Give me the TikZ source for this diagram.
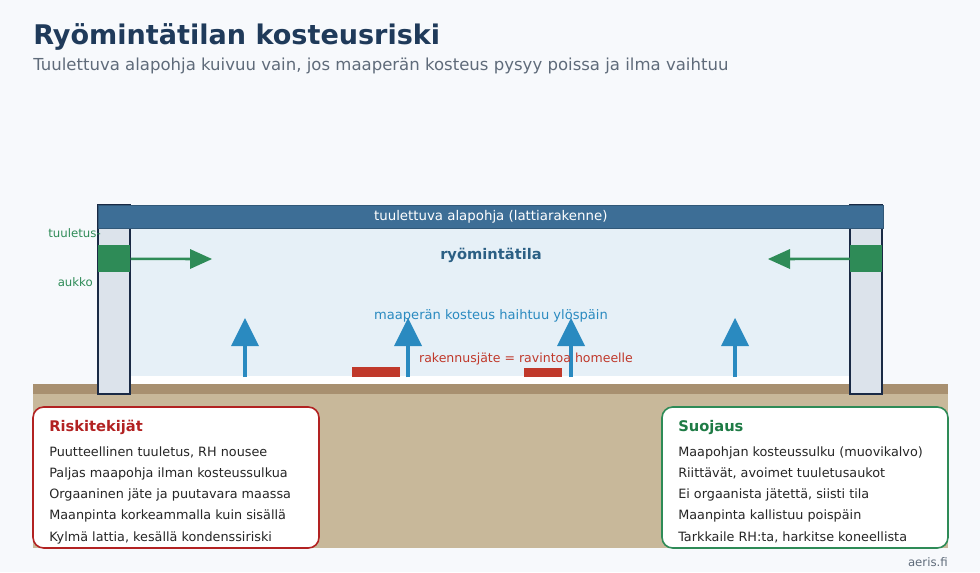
\documentclass[tikz,border=0pt]{standalone}
\usepackage{fontspec}
\setmainfont{DejaVu Sans}
\begin{document}
\begin{tikzpicture}[x=0.75pt,y=-0.75pt,
  txt/.style={inner sep=0pt,font=\fontsize{9.6}{11}\selectfont,text=black!85},
]
\definecolor{bg}{HTML}{F7F9FC}
\definecolor{titc}{HTML}{1F3A5A}
\definecolor{subc}{HTML}{5F6B7A}
\definecolor{grtop}{HTML}{A89070}
\definecolor{grnd}{HTML}{C8B89A}
\definecolor{crawl}{HTML}{E6F0F7}
\definecolor{slab}{HTML}{3D6E96}
\definecolor{wall}{HTML}{DCE3EB}
\definecolor{wallb}{HTML}{1A2A45}
\definecolor{vgreen}{HTML}{2E8B57}
\definecolor{mblue}{HTML}{2A8AC0}
\definecolor{rtxt}{HTML}{2B5F84}
\definecolor{wred}{HTML}{C0392B}
\definecolor{bred}{HTML}{B22222}
\definecolor{gtitle}{HTML}{1E7B45}
\tikzset{
  hup/.style={fill=mblue},
  shaft/.style={draw=mblue,line width=2.6pt},
  gshaft/.style={draw=vgreen,line width=1.9pt},
  wallst/.style={fill=wall,draw=wallb,line width=1pt},
  box/.style={fill=white,line width=1.2pt,rounded corners=8pt},
  lbl/.style={inner sep=0pt,font=\fontsize{8.8}{10}\selectfont,text=vgreen},
}
\fill[bg] (0,0) rectangle (980,572);
\useasboundingbox (0,0) rectangle (980,572);
\node[anchor=base west,inner sep=0pt,font=\bfseries\fontsize{20.3}{24}\selectfont,text=titc] (title) at (33,44) {Ryömintätilan kosteusriski};
\node[anchor=base west,inner sep=0pt,font=\fontsize{12.4}{14}\selectfont,text=subc] (sub) at (33,70) {Tuulettuva alapohja kuivuu vain, jos maaperän kosteus pysyy poissa ja ilma vaihtuu};
% ground
\fill[grnd] (33,394) rectangle (948,548);
\fill[grtop] (33,384) rectangle (948,394);
\fill[white] (130,376) rectangle (850,384);
\fill[crawl] (130,228) rectangle (850,376);
% walls
\draw[wallst] (98,205) rectangle (130,394);
\draw[wallst] (850,205) rectangle (882,394);
% slab
\node[fill=slab,draw=slab!80!black,minimum width=785*0.75pt,minimum height=23*0.75pt,inner sep=0pt,anchor=north west,text=white,font=\fontsize{10}{12}\selectfont] (slab) at (98,205) {tuulettuva alapohja (lattiarakenne)};
% vents
\node[fill=vgreen,minimum width=32*0.75pt,minimum height=27*0.75pt,inner sep=0pt,anchor=north west] (vl) at (98,245) {};
\node[fill=vgreen,minimum width=32*0.75pt,minimum height=27*0.75pt,inner sep=0pt,anchor=north west] (vr) at (850,245) {};
\coordinate (al) at (192,259); \coordinate (ar) at (788,259);
\draw[gshaft] (vl.east) -- (al);
\draw[gshaft] (vr.west) -- (ar);
\fill[vgreen] (190,249) -- (212,259) -- (190,269) -- cycle;
\fill[vgreen] (790,249) -- (768,259) -- (790,269) -- cycle;
\node[lbl,anchor=base east] (l1) at (101,237) {tuuletus-};
\node[lbl,anchor=base east] (l2) at (93,286) {aukko};
\node[inner sep=0pt,font=\bfseries\fontsize{11}{13}\selectfont,text=rtxt] (rt) at (491,255) {ryömintätila};
% red blocks
\fill[wred] (352,367) rectangle (400,377);
\fill[wred] (524,368) rectangle (562,377);
% blue arrows
\foreach \x in {245,408,571,735}{
  \draw[shaft] (\x,377) -- (\x,344);
  \fill[hup] (\x-14,346) -- (\x,318) -- (\x+14,346) -- cycle;
}
\node[inner sep=0pt,font=\fontsize{9.8}{12}\selectfont,text=mblue] (mk) at (491,316) {maaperän kosteus haihtuu ylöspäin};
\node[inner sep=0pt,font=\fontsize{9.4}{11}\selectfont,text=wred] (rj) at (526,359) {rakennusjäte = ravintoa homeelle};
% boxes
\draw[box,draw=bred] (33,407) rectangle (319,548);
\draw[box,draw=vgreen] (662,407) rectangle (948,548);
\node[anchor=base west,inner sep=0pt,font=\bfseries\fontsize{11}{13}\selectfont,text=bred] (rh) at (49,431) {Riskitekijät};
\node[anchor=base west,inner sep=0pt,font=\bfseries\fontsize{11}{13}\selectfont,text=gtitle] (sh) at (678,431) {Suojaus};
\foreach \t [count=\i] in {{Puutteellinen tuuletus, RH nousee},Paljas maapohja ilman kosteussulkua,Orgaaninen jäte ja puutavara maassa,Maanpinta korkeammalla kuin sisällä,{Kylmä lattia, kesällä kondenssiriski}}{
  \node[txt,anchor=base west] at (49,456+21.3*\i-21.3) {\t};}
\foreach \t [count=\i] in {Maapohjan kosteussulku (muovikalvo),{Riittävät, avoimet tuuletusaukot},{Ei orgaanista jätettä, siisti tila},Maanpinta kallistuu poispäin,{Tarkkaile RH:ta, harkitse koneellista}}{
  \node[txt,anchor=base west] at (678,456+21.3*\i-21.3) {\t};}
\node[anchor=base east,inner sep=0pt,font=\fontsize{8.8}{10}\selectfont,text=subc] (ae) at (948,566) {aeris.fi};
\end{tikzpicture}
\end{document}
